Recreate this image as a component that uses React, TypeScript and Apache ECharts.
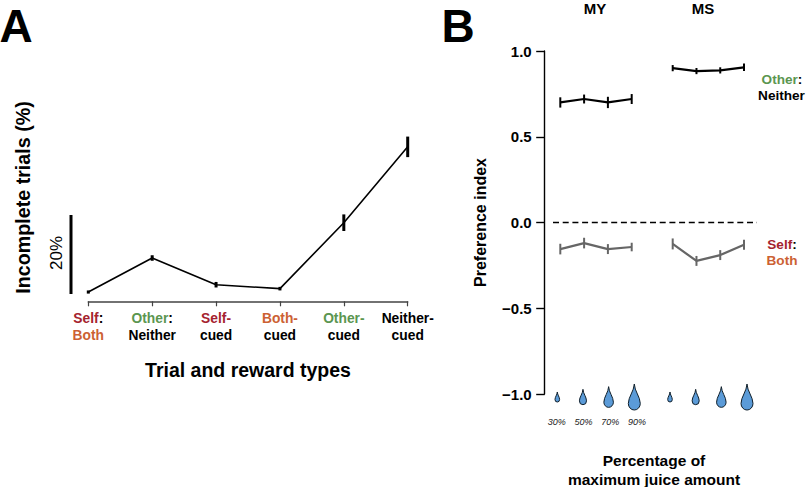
import React, { useEffect, useRef } from "react";
import * as echarts from "echarts";

const FONT = '"Liberation Sans", Arial, sans-serif';
const RED = "#a5232f";
const GREEN = "#5b9650";
const ORANGE = "#cc6133";
const GRAY = "#666666";
const DROP = "#5b9bd8";

const trialCategories = ["Self:|Both", "Other:|Neither", "Self-|cued", "Both-|cued", "Other-|cued", "Neither-|cued"];
const incomplete = [2.35, 10.96, 4.2, 3.2, 19.9, 39.1];
const incompleteErr = [0.4, 0.7, 0.7, 0.45, 2.1, 2.6];

const juiceLevels = ["30%", "50%", "70%", "90%"];
const dropPercents = [30, 50, 70, 90];
const myOther = [0.7, 0.72, 0.7, 0.72];
const myOtherErr = [0.03, 0.026, 0.033, 0.029];
const msOther = [0.9, 0.883, 0.887, 0.905];
const msOtherErr = [0.018, 0.018, 0.018, 0.022];
const mySelf = [-0.155, -0.12, -0.155, -0.143];
const mySelfErr = [0.031, 0.031, 0.029, 0.025];
const msSelf = [-0.125, -0.224, -0.19, -0.13];
const msSelfErr = [0.032, 0.029, 0.029, 0.029];
const zeroEnds = ["start", "end"];
const zeroLine = [0, 0];

const DROP_PATH = "M50 0 C52 60 100 110 100 165 A50 55 0 0 1 0 165 C0 110 48 60 50 0 Z";

const wordStyle: Record<string, string> = { Self: "r", Both: "o", Other: "g" };

function formatCategory(value: string) {
  return value
    .split("|")
    .map((part) => {
      const m = part.match(/^([A-Za-z]+)([:-]?)$/) as RegExpMatchArray;
      const st = wordStyle[m[1]] || "k";
      return `{${st}|${m[1]}}` + (m[2] ? `{${m[2] === "-" ? st : "k"}|${m[2]}}` : "");
    })
    .join("\n");
}

function errSeries(
  name: string,
  gridIdx: number,
  means: number[],
  errs: number[],
  color: string,
  width: number,
) {
  return {
    type: "custom",
    name,
    xAxisIndex: gridIdx,
    yAxisIndex: gridIdx,
    silent: true,
    clip: false,
    encode: { x: 0, y: [1, 2] },
    data: means.map((m, i) => [i, m - errs[i], m + errs[i]]),
    renderItem: (_p: any, api: any) => {
      const a = api.coord([api.value(0), api.value(1)]);
      const b = api.coord([api.value(0), api.value(2)]);
      return {
        type: "line",
        shape: { x1: a[0], y1: a[1], x2: b[0], y2: b[1] },
        style: { stroke: color, lineWidth: width, fill: "none" },
      };
    },
  };
}

function lineSeries(name: string, gridIdx: number, data: number[], color: string, width: number) {
  return {
    type: "line",
    name,
    xAxisIndex: gridIdx,
    yAxisIndex: gridIdx,
    data,
    showSymbol: false,
    silent: true,
    lineStyle: { color, width },
  };
}

function dropSeries(gridIdx: number) {
  return {
    type: "custom",
    xAxisIndex: gridIdx,
    yAxisIndex: gridIdx,
    silent: true,
    clip: false,
    encode: { x: 0, y: 1 },
    data: dropPercents.map((p, i) => [i, 0.5, p]),
    renderItem: (_p: any, api: any) => {
      const c = api.coord([api.value(0), api.value(1)]);
      const h = 0.267 * api.value(2) + 2;
      const w = h * 0.46;
      return {
        type: "path",
        shape: { pathData: DROP_PATH, layout: "cover", x: c[0] - w / 2, y: c[1] - h / 2, width: w, height: h },
        style: { fill: DROP, stroke: "#10202c", lineWidth: 1 },
      };
    },
  };
}

function hiddenX(gridIndex: number, data: string[]) {
  return { type: "category", gridIndex, data, boundaryGap: false, show: false };
}

function hiddenY(gridIndex: number, min: number, max: number) {
  return { type: "value", gridIndex, min, max, show: false };
}

function label(text: string, x: number, y: number, size: number, extra: any = {}, rotation = 0) {
  return {
    type: "text",
    x,
    y,
    rotation,
    silent: true,
    style: {
      text,
      fontFamily: FONT,
      fontSize: size,
      fontWeight: "bold",
      fill: "#000",
      align: "center",
      verticalAlign: "middle",
      ...extra,
    },
  };
}

const LEFT90 = Math.PI / 2;

function richStyles(size: number, lineHeight: number) {
  const base = { fontWeight: "bold", fontSize: size, fontFamily: FONT, lineHeight };
  return {
    r: { ...base, color: RED, fill: RED },
    o: { ...base, color: ORANGE, fill: ORANGE },
    g: { ...base, color: GREEN, fill: GREEN },
    k: { ...base, color: "#000", fill: "#000" },
  };
}

export default function App() {
  const ref = useRef<HTMLDivElement>(null);
  useEffect(() => {
    const chart = echarts.init(ref.current as HTMLDivElement, undefined, { renderer: "svg" });
    const rich = richStyles(13.8, 16.5);
    const sideRich = richStyles(13.6, 16.5);
    chart.setOption({
      animation: false,
      backgroundColor: "#fff",
      grid: [
        { left: 88.3, width: 319.4, top: 103.8, height: 197.5 },
        { left: 553, width: 204, top: 51, height: 343 },
        { left: 560.3, width: 71.4, top: 51, height: 343 },
        { left: 672.7, width: 71.3, top: 51, height: 343 },
        { left: 557.3, width: 77, top: 380, height: 34 },
        { left: 670, width: 77, top: 380, height: 34 },
        { left: 556.7, width: 80.3, top: 380, height: 34 },
      ],
      xAxis: [
        {
          type: "category",
          gridIndex: 0,
          data: trialCategories,
          boundaryGap: false,
          axisLine: { lineStyle: { color: "#444", width: 1.5 } },
          axisTick: { length: 5, lineStyle: { color: "#444", width: 1.2 } },
          axisLabel: { interval: 0, margin: 9, formatter: formatCategory, rich, hideOverlap: false },
          name: "Trial and reward types",
          nameLocation: "middle",
          nameGap: 58.5,
          nameTextStyle: { fontFamily: FONT, fontWeight: "bold", fontSize: 19.5, color: "#000" },
        },
        hiddenX(1, zeroEnds),
        hiddenX(2, juiceLevels),
        hiddenX(3, juiceLevels),
        hiddenX(4, juiceLevels),
        hiddenX(5, juiceLevels),
        {
          type: "category",
          gridIndex: 6,
          data: juiceLevels,
          boundaryGap: false,
          axisLine: { show: false },
          axisTick: { show: false },
          axisLabel: {
            interval: 0,
            margin: 3,
            fontFamily: FONT,
            fontStyle: "italic",
            fontSize: 9,
            color: "#222",
          },
        },
      ],
      yAxis: [
        {
          type: "value",
          gridIndex: 0,
          min: 0,
          max: 50,
          show: false,
        },
        {
          type: "value",
          gridIndex: 1,
          min: -1,
          max: 1,
          interval: 0.5,
          offset: 8.3,
          splitLine: { show: false },
          axisLine: { show: true, onZero: false, lineStyle: { color: "#000", width: 1.4 } },
          axisTick: { show: true, length: 8.5, lineStyle: { color: "#000", width: 1.4 } },
          axisLabel: {
            margin: 13,
            fontFamily: FONT,
            fontWeight: "bold",
            fontSize: 15,
            color: "#000",
            formatter: (v: number) => (v < 0 ? "\u2212" : "") + Math.abs(v).toFixed(1),
          },
          name: "Preference index",
          nameLocation: "middle",
          nameRotate: 90,
          nameGap: 56.5,
          nameTextStyle: { fontFamily: FONT, fontWeight: "bold", fontSize: 16, color: "#000" },
        },
        hiddenY(2, -1, 1),
        hiddenY(3, -1, 1),
        hiddenY(4, 0, 1),
        hiddenY(5, 0, 1),
        hiddenY(6, 0, 1),
      ],
      series: [
        lineSeries("Incomplete trials", 0, incomplete, "#000", 1.6),
        errSeries("Incomplete trials error", 0, incomplete, incompleteErr, "#000", 3),
        {
          type: "line",
          name: "Zero",
          xAxisIndex: 1,
          yAxisIndex: 1,
          data: zeroLine,
          showSymbol: false,
          silent: true,
          lineStyle: { color: "#000", width: 1.6, type: [6, 3.7] },
        },
        lineSeries("MY Other:Neither", 2, myOther, "#000", 2.2),
        errSeries("MY Other:Neither error", 2, myOther, myOtherErr, "#000", 2),
        lineSeries("MS Other:Neither", 3, msOther, "#000", 2.2),
        errSeries("MS Other:Neither error", 3, msOther, msOtherErr, "#000", 2),
        lineSeries("MY Self:Both", 2, mySelf, GRAY, 2.2),
        errSeries("MY Self:Both error", 2, mySelf, mySelfErr, GRAY, 2),
        lineSeries("MS Self:Both", 3, msSelf, GRAY, 2.2),
        errSeries("MS Self:Both error", 3, msSelf, msSelfErr, GRAY, 2),
        dropSeries(4),
        dropSeries(5),
        { type: "line", xAxisIndex: 6, yAxisIndex: 6, data: [], silent: true },
      ],
      graphic: [
        label("A", 16, 25.5, 46),
        label("B", 458, 25.5, 46),
        label("Incomplete trials (%)", 23, 197.5, 19.7, {}, LEFT90),
        label("20%", 56, 253, 17, { fontWeight: "normal" }, LEFT90),
        {
          type: "line",
          silent: true,
          shape: { x1: 71, y1: 215, x2: 71, y2: 294 },
          style: { stroke: "#000", lineWidth: 3 },
        },
        label("MY", 595, 8, 15),
        label("MS", 703, 8, 15),
        label("{g|Other}{k|:}", 782, 79, 13.6, { rich: sideRich }),
        label("Neither", 781.5, 95, 13.6),
        label("{r|Self}{k|:}", 782, 244, 13.6, { rich: sideRich }),
        label("Both", 782, 260.7, 13.6, { fill: ORANGE }),
        label("Percentage of", 654, 460, 15.5),
        label("maximum juice amount", 654, 479, 15.5),
      ],
    });
    return () => chart.dispose();
  }, []);
  return <div ref={ref} style={{ position: "absolute", left: 0, top: 0, width: 807, height: 487 }} />;
}
